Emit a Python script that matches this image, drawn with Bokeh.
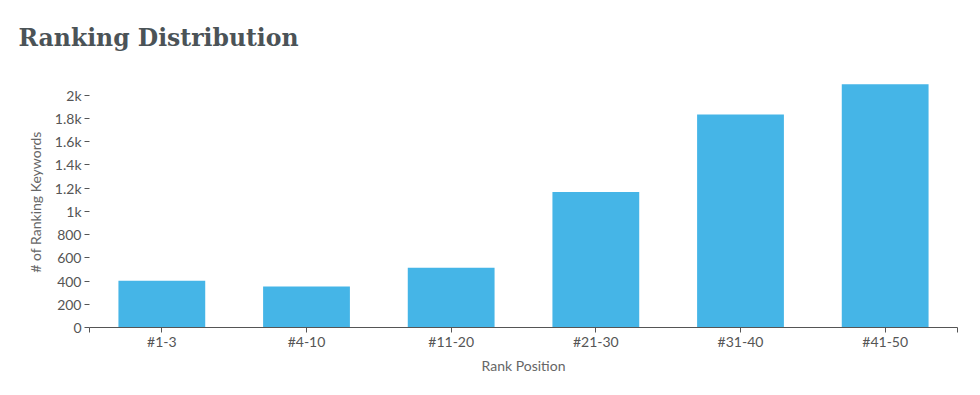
from bokeh.plotting import figure
from bokeh.models import ColumnDataSource, FixedTicker, Range1d
from bokeh.embed import file_html
from bokeh.resources import INLINE

categories = ["#1-3", "#4-10", "#11-20", "#21-30", "#31-40", "#41-50"]
keyword_counts = [403, 352, 515, 1166, 1833, 2093]
y_ticks = [0, 200, 400, 600, 800, 1000, 1200, 1400, 1600, 1800, 2000]
y_tick_labels = ["0", "200", "400", "600", "800", "1k", "1.2k", "1.4k", "1.6k", "1.8k", "2k"]

centers = [i + 0.5 for i in range(len(categories))]
source = ColumnDataSource(data=dict(x=centers, top=keyword_counts, cat=categories))

p = figure(width=972, height=387, output_backend="svg", toolbar_location=None,
           x_range=Range1d(0, len(categories)), y_range=Range1d(0, 2160),
           title="Ranking Distribution",
           min_border_left=89, min_border_right=15, min_border_bottom=60, min_border_top=75)

p.vbar(x="x", top="top", width=0.6, source=source, color="#45b5e7", line_color=None)

p.title.text_font = "DejaVu Serif"
p.title.text_font_style = "bold"
p.title.text_font_size = "23.5px"
p.title.text_color = "#4b5357"
p.title.align = "left"
p.title.offset = -71
p.title.standoff = 46
p.title.vertical_align = "top"
p.title.text_line_height = 0.8

p.xgrid.visible = False
p.ygrid.visible = False
p.outline_line_color = None
p.background_fill_color = "white"
p.border_fill_color = "white"

xt = [0] + centers + [len(categories)]
p.xaxis.ticker = FixedTicker(ticks=xt)
ov = {c: cat for c, cat in zip(centers, categories)}
ov[0] = ""
ov[len(categories)] = ""
p.xaxis.major_label_overrides = ov
p.xaxis.minor_tick_line_color = None
p.xaxis.axis_line_color = "#555555"
p.xaxis.major_tick_line_color = "#555555"
p.xaxis.major_tick_in = 0
p.xaxis.major_tick_out = 5
p.xaxis.major_label_text_font = "Lato"
p.xaxis.major_label_text_font_size = "14px"
p.xaxis.major_label_text_color = "#555555"
p.xaxis.major_label_standoff = 0
p.xaxis.axis_label = "Rank Position"
p.xaxis.axis_label_text_font = "Lato"
p.xaxis.axis_label_text_font_style = "normal"
p.xaxis.axis_label_text_font_size = "14px"
p.xaxis.axis_label_text_color = "#666666"
p.xaxis.axis_label_standoff = 4

p.yaxis.ticker = FixedTicker(ticks=y_ticks)
p.yaxis.major_label_overrides = {t: l for t, l in zip(y_ticks, y_tick_labels)}
p.yaxis.minor_tick_line_color = None
p.yaxis.axis_line_color = None
p.yaxis.major_tick_line_color = "#555555"
p.yaxis.major_tick_in = 0
p.yaxis.major_tick_out = 5
p.yaxis.major_label_text_font = "Lato"
p.yaxis.major_label_text_font_size = "14px"
p.yaxis.major_label_text_color = "#555555"
p.yaxis.major_label_standoff = 3
p.yaxis.axis_label = "# of Ranking Keywords"
p.yaxis.axis_label_text_font = "Lato"
p.yaxis.axis_label_text_font_style = "normal"
p.yaxis.axis_label_text_font_size = "14px"
p.yaxis.axis_label_text_color = "#666666"
p.yaxis.axis_label_standoff = 8

open("out.html", "w").write(file_html(p, INLINE))
